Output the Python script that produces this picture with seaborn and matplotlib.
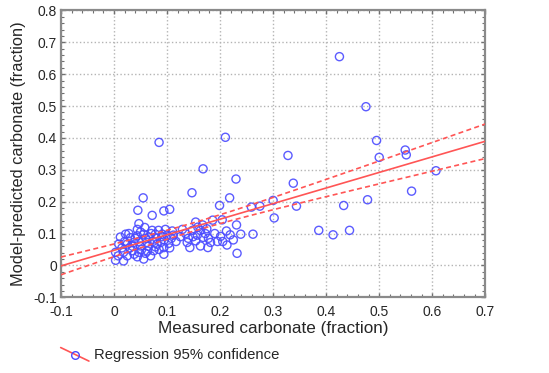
import numpy as np
import pandas as pd
import seaborn as sns
import matplotlib.pyplot as plt
from matplotlib.lines import Line2D
from matplotlib.legend_handler import HandlerBase
from matplotlib.ticker import MultipleLocator

# measured vs model-predicted carbonate (fraction)
measured = [
    0.047, 0.044, 0.058, 0.072, 0.084, 0.097, 0.110,
    0.012, 0.022, 0.031, 0.044, 0.056, 0.066, 0.078, 0.091, 0.117,
    0.009, 0.025, 0.037, 0.050, 0.062, 0.078, 0.088, 0.103,
    0.003, 0.018, 0.034, 0.047, 0.059, 0.075, 0.094,
    0.003, 0.018, 0.044, 0.056, 0.069, 0.081, 0.094, 0.030,
    0.008, 0.015, 0.020, 0.028, 0.035, 0.040, 0.050, 0.052, 0.060, 0.065,
    0.070, 0.073, 0.080, 0.085, 0.090, 0.095, 0.100, 0.105, 0.108, 0.112,
    0.038, 0.063, 0.025, 0.047,
    0.055, 0.045, 0.072, 0.094, 0.105, 0.085,
    0.129, 0.148, 0.163, 0.154, 0.167, 0.186, 0.204, 0.147, 0.168, 0.199,
    0.218, 0.210, 0.230, 0.212, 0.231, 0.219, 0.201, 0.149, 0.168, 0.138,
    0.163, 0.182, 0.143, 0.177, 0.213, 0.232, 0.154, 0.239, 0.262,
    0.125, 0.135, 0.140, 0.157, 0.172, 0.178, 0.190, 0.195, 0.205, 0.225,
    0.158, 0.175,
    0.259, 0.275, 0.300, 0.302, 0.328, 0.338, 0.344,
    0.386, 0.413, 0.444, 0.425, 0.433, 0.475, 0.478, 0.495, 0.500,
    0.549, 0.551, 0.561, 0.607,
]
predicted = [
    0.131, 0.113, 0.119, 0.110, 0.110, 0.113, 0.108,
    0.089, 0.098, 0.087, 0.093, 0.098, 0.089, 0.098, 0.098, 0.075,
    0.067, 0.067, 0.072, 0.061, 0.072, 0.058, 0.072, 0.069,
    0.041, 0.041, 0.046, 0.041, 0.038, 0.046, 0.035,
    0.016, 0.014, 0.027, 0.020, 0.030, 0.067, 0.056, 0.055,
    0.030, 0.055, 0.075, 0.100, 0.060, 0.085, 0.105, 0.050, 0.085, 0.060,
    0.100, 0.075, 0.085, 0.050, 0.090, 0.080, 0.095, 0.055, 0.085, 0.095,
    0.035, 0.045, 0.030, 0.075,
    0.212, 0.173, 0.157, 0.171, 0.176, 0.386,
    0.113, 0.110, 0.110, 0.136, 0.127, 0.142, 0.143, 0.228, 0.303, 0.188,
    0.212, 0.402, 0.271, 0.108, 0.127, 0.096, 0.091, 0.090, 0.088, 0.072,
    0.061, 0.072, 0.056, 0.056, 0.064, 0.038, 0.077, 0.098, 0.098,
    0.090, 0.100, 0.085, 0.095, 0.100, 0.085, 0.100, 0.075, 0.075, 0.080,
    0.120, 0.115,
    0.183, 0.186, 0.204, 0.149, 0.345, 0.258, 0.186,
    0.110, 0.096, 0.110, 0.655, 0.188, 0.498, 0.206, 0.392, 0.339,
    0.362, 0.347, 0.233, 0.297,
]

x_ticks = [-0.1, 0.0, 0.1, 0.2, 0.3, 0.4, 0.5, 0.6, 0.7]
x_tick_labels = ["-0.1", "0", "0.1", "0.2", "0.3", "0.4", "0.5", "0.6", "0.7"]
y_ticks = [-0.1, 0.0, 0.1, 0.2, 0.3, 0.4, 0.5, 0.6, 0.7, 0.8]
y_tick_labels = ["-0.1", "0", "0.1", "0.2", "0.3", "0.4", "0.5", "0.6", "0.7", "0.8"]

df = pd.DataFrame({"measured": measured, "predicted": predicted})

POINT_COLOR = "#4a4aff"
LINE_COLOR = "#ff5555"

# least squares fit and 95% confidence band of the mean
x = df.measured.values
y = df.predicted.values
n = len(x)
slope, icpt = np.polyfit(x, y, 1)
resid = y - (slope * x + icpt)
s = np.sqrt((resid ** 2).sum() / (n - 2))
sxx = ((x - x.mean()) ** 2).sum()
xs = np.linspace(-0.1, 0.7, 200)
fit = slope * xs + icpt
half = 1.98 * s * np.sqrt(1 / n + (xs - x.mean()) ** 2 / sxx)
fitdf = pd.DataFrame({"x": xs, "fit": fit, "lo": fit - half, "hi": fit + half})


class SlantHandler(HandlerBase):
    # statistica style legend key: slanted line with a circle in the middle
    def create_artists(self, legend, orig_handle, xdescent, ydescent,
                       width, height, fontsize, trans):
        line = Line2D([0, width], [height * 1.1, -height * 0.2], color=LINE_COLOR,
                      lw=1.2, transform=trans)
        dot = Line2D([width / 2], [height / 2 - 1], marker="o", ms=5.5, mfc="none",
                     mec=POINT_COLOR, mew=1, ls="none", transform=trans)
        return [line, dot]


sns.set_style("white")
plt.rcParams["font.family"] = ["Liberation Sans", "DejaVu Sans"]

fig = plt.figure(figsize=(5.49, 3.73), dpi=100)
ax = fig.add_axes([0.111, 0.203, 0.773, 0.769])

ax.set_xlim(-0.1, 0.7)
ax.set_ylim(-0.1, 0.8)
ax.set_xticks(x_ticks)
ax.set_xticklabels(x_tick_labels)
ax.set_yticks(y_ticks)
ax.set_yticklabels(y_tick_labels)
ax.xaxis.set_minor_locator(MultipleLocator(0.02))
ax.yaxis.set_minor_locator(MultipleLocator(0.02))
ax.tick_params(which="both", direction="in", top=True, right=True, bottom=True, left=True,
               color="#707070", labelsize=10)
ax.tick_params(axis="x", pad=5.5)
ax.tick_params(axis="y", pad=3)
ax.tick_params(which="major", length=3, width=1)
ax.tick_params(which="minor", length=2.5, width=0.8)
ax.grid(True, which="major", linestyle=":", color="#b4b4b4", linewidth=1)
ax.set_axisbelow(True)
for sp in ax.spines.values():
    sp.set_color("#8a8a8a")
    sp.set_linewidth(1.6)

sns.scatterplot(data=df, x="measured", y="predicted", ax=ax, marker="o", s=34,
                facecolor="none", edgecolor=POINT_COLOR, linewidth=1, alpha=0.9, zorder=3)
sns.lineplot(data=fitdf, x="x", y="fit", ax=ax, color=LINE_COLOR, lw=1.2, zorder=4)
sns.lineplot(data=fitdf, x="x", y="lo", ax=ax, color=LINE_COLOR, lw=1.2, ls=(0, (3, 2)), zorder=4)
sns.lineplot(data=fitdf, x="x", y="hi", ax=ax, color=LINE_COLOR, lw=1.2, ls=(0, (3, 2)), zorder=4)

ax.set_xlabel("Measured carbonate (fraction)", fontsize=12.3, labelpad=1.5)
ax.set_ylabel("Model-predicted carbonate (fraction)", fontsize=11.8, labelpad=5)

key = Line2D([], [])
fig.legend([key], ["Regression 95% confidence"], handler_map={Line2D: SlantHandler()},
           loc="center left", bbox_to_anchor=(0.097, 1 - 355 / 373), frameon=False,
           fontsize=10.7, handlelength=1.9, handletextpad=0.35, borderpad=0)

fig.savefig("out.png", dpi=100)
